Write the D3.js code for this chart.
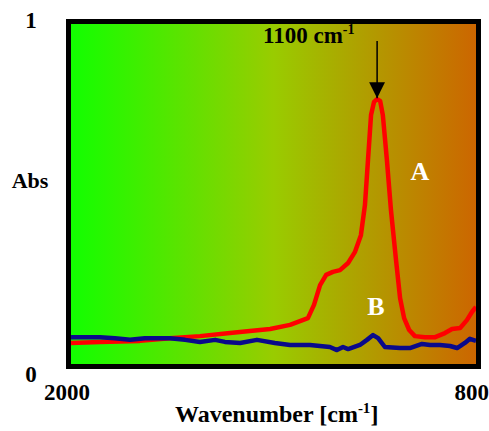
<!DOCTYPE html>
<html><head><meta charset="utf-8">
<script src="https://cdnjs.cloudflare.com/ajax/libs/d3/7.8.5/d3.min.js"></script>
<style>body{margin:0;background:#fff}svg{display:block}</style>
</head><body>
<script>
const wnA = [2000,1914,1796,1707,1618,1529,1470,1410,1351,1298,1280,1262,1244,1224,1203,1179,1159,1141,1129,1120,1111,1102,1093,1084,1076,1064,1052,1037,1025,1013,998,981,951,921,892,871,847,827,812,800];
const absA = [0.062,0.065,0.068,0.076,0.082,0.091,0.097,0.103,0.115,0.135,0.174,0.232,0.262,0.271,0.276,0.297,0.329,0.379,0.468,0.600,0.732,0.771,0.779,0.774,0.732,0.600,0.453,0.306,0.194,0.135,0.100,0.082,0.079,0.079,0.091,0.103,0.106,0.129,0.153,0.168];
const wnB = [2000,1914,1870,1825,1781,1707,1662,1618,1573,1544,1499,1449,1396,1351,1292,1233,1212,1194,1179,1144,1123,1105,1090,1070,1025,996,960,936,907,877,856,833,818,800];
const absB = [0.079,0.079,0.076,0.071,0.076,0.076,0.071,0.065,0.071,0.065,0.062,0.071,0.062,0.056,0.056,0.050,0.041,0.050,0.044,0.056,0.071,0.085,0.076,0.050,0.047,0.047,0.059,0.056,0.056,0.053,0.047,0.062,0.074,0.068];
const xTicks = [2000, 800];
const yTicks = [0, 1];
const peakWn = 1093, peakLabel = "1100 cm";

const W = 489, H = 431;
const L = 71, R = 476, T = 24, B = 364;
const svg = d3.select("body").append("svg").attr("width", W).attr("height", H);
const x = d3.scaleLinear().domain([2000, 800]).range([L, R]);
const y = d3.scaleLinear().domain([0, 1]).range([B, T]);

const defs = svg.append("defs");
const g = defs.append("linearGradient").attr("id", "bg").attr("x1", "0").attr("x2", "1").attr("y1", "0").attr("y2", "0");
g.append("stop").attr("offset", "0").attr("stop-color", "#12ff00");
g.append("stop").attr("offset", "0.5").attr("stop-color", "#99cc00");
g.append("stop").attr("offset", "1").attr("stop-color", "#cc6600");
defs.append("marker").attr("id", "ah").attr("viewBox", "0 0 10 10").attr("refX", 10).attr("refY", 5)
  .attr("markerWidth", 16).attr("markerHeight", 16).attr("markerUnits", "userSpaceOnUse").attr("orient", "auto")
  .append("path").attr("d", "M0,0L10,5L0,10z").attr("fill", "#000");

svg.append("rect").attr("x", L).attr("y", T).attr("width", R - L).attr("height", B - T).attr("fill", "url(#bg)");

const line = d3.line().curve(d3.curveLinear);
const ptsA = wnA.map((w, i) => [x(w), y(absA[i])]);
const ptsB = wnB.map((w, i) => [x(w), y(absB[i])]);
svg.append("path").attr("d", line(ptsA)).attr("fill", "none").attr("stroke", "#ff0000").attr("stroke-width", 4.5).attr("stroke-linejoin", "round");
svg.append("path").attr("d", line(ptsB)).attr("fill", "none").attr("stroke", "#0a0a8a").attr("stroke-width", 4.5).attr("stroke-linejoin", "round");

svg.append("rect").attr("x", L - 2.5).attr("y", T - 2.5).attr("width", R - L + 5).attr("height", B - T + 5)
  .attr("fill", "none").attr("stroke", "#000").attr("stroke-width", 5);

const font = "'Liberation Serif','Times New Roman',serif";
const txt = (s, px, py, size, anchor, fill) => svg.append("text").attr("x", px).attr("y", py)
  .attr("font-family", font).attr("font-weight", "bold").attr("font-size", size)
  .attr("text-anchor", anchor || "start").attr("fill", fill || "#000").text(s);

txt(String(yTicks[1]), 31, 28, 23, "middle");
txt(String(yTicks[0]), 31, 382, 23, "middle");
txt("Abs", 30, 188, 22, "middle");
txt(String(xTicks[0]), 67, 400, 23, "middle");
txt(String(xTicks[1]), 489, 400, 23, "end");

const xt = txt("Wavenumber [cm", 175, 422, 24, "start");
xt.append("tspan").attr("font-size", 15).attr("dy", -9).text("-1");
xt.append("tspan").attr("dy", 9).text("]");

const pk = txt(peakLabel, 263, 43, 23, "start");
pk.append("tspan").attr("font-size", 14).attr("dy", -9).text("-1");

svg.append("line").attr("x1", x(peakWn)).attr("x2", x(peakWn)).attr("y1", 41).attr("y2", y(0.779) - 1)
  .attr("stroke", "#000").attr("stroke-width", 1.5).attr("marker-end", "url(#ah)");

txt("A", 420, 180, 26, "middle", "#fff");
txt("B", 376, 315, 26, "middle", "#fff");
</script>
</body></html>
